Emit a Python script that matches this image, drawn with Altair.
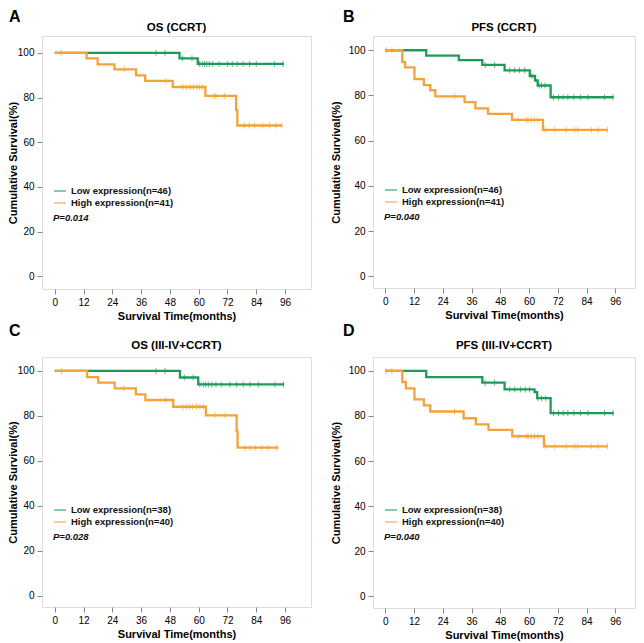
import altair as alt
import pandas as pd

GREEN = "#1F9A5A"
ORANGE = "#F4A23A"
FONT = "Liberation Sans"

x_ticks = [0, 12, 24, 36, 48, 60, 72, 84, 96]
y_ticks = [0, 20, 40, 60, 80, 100]

letters = ["A", "B", "C", "D"]
titles = ["OS (CCRT)", "PFS (CCRT)", "OS (III-IV+CCRT)", "PFS (III-IV+CCRT)"]
low_labels = ["Low expression(n=46)", "Low expression(n=46)", "Low expression(n=38)", "Low expression(n=38)"]
high_labels = ["High expression(n=41)", "High expression(n=41)", "High expression(n=40)", "High expression(n=40)"]
p_values = ["P=0.014", "P=0.040", "P=0.028", "P=0.040"]

# ---- Panel A: OS (CCRT)
A_low_event_t = [52.0, 59.6]
A_low_event_s = [97.5, 95.0]
A_low_censor_t = [42.2, 46.0, 53.3, 57.2, 60.3, 61.4, 62.4, 63.4, 64.4, 65.8, 68.5, 72.0, 74.0, 76.0, 78.5, 81.2, 84.0, 91.6, 95.1]
A_low_end = 95.5
A_high_event_t = [13.3, 17.9, 24.9, 33.9, 37.7, 49.2, 62.8, 75.6, 76.1]
A_high_event_s = [97.5, 94.8, 92.6, 89.9, 87.4, 84.7, 80.7, 74.4, 67.5]
A_high_censor_t = [2.7, 29.0, 46.4, 53.3, 55.0, 56.5, 57.8, 59.2, 60.4, 61.5, 66.5, 67.2, 70.7, 79.0, 81.0, 83.2, 86.7, 89.5, 92.2, 94.7]
A_high_end = 94.7

# ---- Panel B: PFS (CCRT)
B_low_event_t = [17.1, 30.7, 40.5, 49.8, 60.3, 62.5, 63.6, 69.0]
B_low_event_s = [97.6, 95.6, 93.5, 91.1, 88.6, 86.6, 84.4, 79.2]
B_low_censor_t = [41.7, 45.6, 51.9, 54.0, 56.0, 58.2, 61.2, 64.2, 65.2, 66.6, 70.2, 72.3, 74.2, 76.2, 78.7, 81.5, 84.6, 91.5, 95.0]
B_low_end = 95.3
B_high_event_t = [7.1, 8.3, 12.2, 16.1, 18.8, 20.9, 33.1, 37.6, 42.9, 52.9, 65.8]
B_high_event_s = [94.8, 92.4, 87.2, 84.6, 82.3, 79.6, 77.0, 74.3, 71.8, 69.2, 64.8]
B_high_censor_t = [0.4, 2.8, 28.9, 55.4, 58.9, 59.6, 60.9, 62.3, 63.7, 66.8, 70.7, 75.5, 79.0, 80.3, 86.0, 88.8, 92.7]
B_high_end = 92.7

# ---- Panel C: OS (III-IV+CCRT)
C_low_event_t = [52.2, 59.8]
C_low_event_s = [97.1, 94.0]
C_low_censor_t = [42.2, 46.0, 54.0, 57.7, 60.5, 61.9, 62.9, 64.0, 65.4, 67.2, 69.6, 73.0, 75.8, 78.6, 81.4, 84.9, 91.8, 95.3]
C_low_end = 95.6
C_high_event_t = [13.5, 18.1, 25.0, 33.8, 37.8, 49.4, 63.0, 75.8, 76.2]
C_high_event_s = [97.3, 94.8, 92.3, 89.6, 87.1, 84.1, 80.3, 73.3, 65.9]
C_high_censor_t = [2.8, 28.8, 46.3, 53.3, 55.0, 56.3, 57.4, 59.1, 60.5, 61.9, 66.8, 71.0, 79.3, 81.4, 83.5, 86.3, 89.0, 92.5]
C_high_end = 93.2

# ---- Panel D: PFS (III-IV+CCRT)
D_low_event_t = [17.1, 40.5, 49.8, 62.3, 63.4, 69.0]
D_low_event_s = [97.3, 94.8, 91.8, 90.6, 87.9, 81.3]
D_low_censor_t = [41.7, 45.6, 51.9, 54.0, 56.5, 58.4, 60.2, 63.7, 65.2, 67.0, 70.2, 72.3, 74.2, 76.2, 78.7, 81.5, 84.6, 91.5, 95.0]
D_low_end = 95.3
D_high_event_t = [7.1, 8.6, 12.2, 16.1, 18.8, 32.7, 37.8, 43.1, 53.0, 66.2]
D_high_event_s = [95.1, 92.3, 87.4, 84.7, 82.0, 79.0, 76.3, 73.8, 71.0, 66.5]
D_high_censor_t = [0.4, 2.8, 28.9, 55.4, 58.9, 59.6, 60.9, 62.3, 63.7, 66.8, 70.7, 75.5, 79.0, 80.3, 86.0, 88.8, 92.7]
D_high_end = 92.7

panels = {
    "A": (A_low_event_t, A_low_event_s, A_low_censor_t, A_low_end, A_high_event_t, A_high_event_s, A_high_censor_t, A_high_end),
    "B": (B_low_event_t, B_low_event_s, B_low_censor_t, B_low_end, B_high_event_t, B_high_event_s, B_high_censor_t, B_high_end),
    "C": (C_low_event_t, C_low_event_s, C_low_censor_t, C_low_end, C_high_event_t, C_high_event_s, C_high_censor_t, C_high_end),
    "D": (D_low_event_t, D_low_event_s, D_low_censor_t, D_low_end, D_high_event_t, D_high_event_s, D_high_censor_t, D_high_end),
}

# layout per panel: width, height, x domain, y domain, y-title padding, title y, letter pos (top), legend y, p y
layout = {
    "A": dict(w=269, h=253, xd=[-5.3, 106.8], yd=[-5.6, 107.5], ytp=-1, ty=-8, lx=-33, ly=-27, lgy=148, py=182),
    "B": dict(w=262, h=252, xd=[-5.1, 104.2], yd=[-5.2, 106.3], ytp=7, ty=-8, lx=-30, ly=-27, lgy=147, py=181),
    "C": dict(w=269, h=250, xd=[-5.3, 106.8], yd=[-4.9, 106.2], ytp=-1, ty=-11, lx=-33, ly=-34, lgy=146, py=180),
    "D": dict(w=262, h=251, xd=[-5.1, 104.2], yd=[-5.3, 106.2], ytp=7, ty=-11, lx=-30, ly=-34, lgy=146, py=180),
}


def level_at(t, ev_t, ev_s):
    s = 100.0
    for et, es in zip(ev_t, ev_s):
        if et <= t:
            s = es
    return s


def make_panel(i, key):
    lo_t, lo_s, lo_c, lo_end, hi_t, hi_s, hi_c, hi_end = panels[key]
    L = layout[key]
    lab_lo, lab_hi = low_labels[i], high_labels[i]
    line_rows, cens_rows = [], []
    for lab, et, es, ct, end in [(lab_lo, lo_t, lo_s, lo_c, lo_end), (lab_hi, hi_t, hi_s, hi_c, hi_end)]:
        line_rows.append({"t": 0.0, "s": 100.0, "g": lab})
        for a, b in zip(et, es):
            line_rows.append({"t": a, "s": b, "g": lab})
        line_rows.append({"t": end, "s": es[-1], "g": lab})
        for c in ct:
            cens_rows.append({"t": c, "s": level_at(c, et, es), "g": lab})
    df_line = pd.DataFrame(line_rows)
    df_cens = pd.DataFrame(cens_rows)

    xs = alt.X("t:Q", scale=alt.Scale(domain=L["xd"], nice=False, zero=False),
               axis=alt.Axis(values=x_ticks, title="Survival Time(months)", titlePadding=3,
                             labelPadding=3, tickSize=5, labelOverlap=False, labelFlush=False,
                             grid=False, domain=False))
    ys = alt.Y("s:Q", scale=alt.Scale(domain=L["yd"], nice=False, zero=False),
               axis=alt.Axis(values=y_ticks, title="Cumulative Survival(%)", titlePadding=L["ytp"],
                             labelPadding=3, tickSize=5, labelOverlap=False, labelFlush=False,
                             grid=False, domain=False))
    color = alt.Color("g:N", scale=alt.Scale(domain=[lab_lo, lab_hi], range=[GREEN, ORANGE]),
                      legend=alt.Legend(title=None, orient="none", legendX=11, legendY=L["lgy"],
                                        symbolType="stroke", symbolSize=144, symbolStrokeWidth=1.5,
                                        labelFont=FONT, labelFontSize=9.5, labelFontWeight="bold",
                                        labelColor="#111", padding=0, rowPadding=0, labelOffset=4,
                                        direction="vertical"))

    line = alt.Chart(df_line).mark_line(interpolate="step-after", strokeWidth=2.3).encode(
        x=xs, y=ys, color=color)
    ticks = alt.Chart(df_cens).mark_tick(orient="vertical", size=6, thickness=1).encode(
        x=xs, y=ys, color=color)
    ptxt = alt.Chart(pd.DataFrame({"p": [p_values[i]]})).mark_text(
        font=FONT, fontSize=9.5, fontWeight="bold", fontStyle="italic", align="left",
        baseline="middle", color="#111").encode(
        text="p:N", x=alt.value(11), y=alt.value(L["py"]))
    letter = alt.Chart(pd.DataFrame({"l": [letters[i]]})).mark_text(
        font=FONT, fontSize=16, fontWeight="bold", align="left", baseline="top",
        color="#000").encode(text="l:N", x=alt.value(L["lx"]), y=alt.value(L["ly"]))
    ttl = alt.Chart(pd.DataFrame({"ti": [titles[i]]})).mark_text(
        font=FONT, fontSize=11.5, fontWeight="bold", align="center", baseline="middle",
        color="#000").encode(text="ti:N", x=alt.value(L["w"] / 2), y=alt.value(L["ty"]))

    return alt.layer(line, ticks, ptxt, letter, ttl).properties(width=L["w"], height=L["h"])


pA = make_panel(0, "A")
pB = make_panel(1, "B")
pC = make_panel(2, "C")
pD = make_panel(3, "D")

row1 = alt.hconcat(pA, pB, spacing=17).resolve_scale(color="independent")
row2 = alt.hconcat(pC, pD, spacing=17).resolve_scale(color="independent")

chart = alt.vconcat(row1, row2, spacing=0).resolve_scale(color="independent").properties(
    padding={"left": -2, "top": 0, "right": 0, "bottom": 0}
).configure_view(stroke="#555", strokeWidth=1.2).configure_axis(
    domain=False, grid=False, tickColor="#333", tickWidth=1,
    labelFont=FONT, labelFontSize=8.5, labelFontWeight="bold", labelColor="#111",
    titleFont=FONT, titleFontSize=11.5, titleFontWeight="bold", titleColor="#111"
).configure(background="white")

chart.save("out.html", embed_options={"renderer": "svg", "actions": False})
